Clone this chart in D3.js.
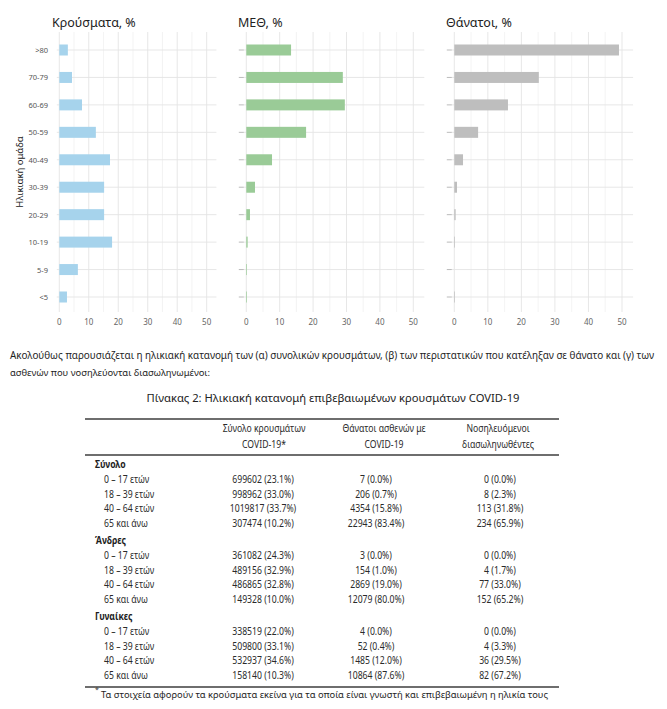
<!DOCTYPE html>
<html>
<head>
<meta charset="utf-8">
<script src="https://cdn.jsdelivr.net/npm/d3@7"></script>
<style>
  body { margin: 0; background: #fff; }
  svg { display: block; font-family: "Noto Sans", "DejaVu Sans", sans-serif; }
</style>
</head>
<body>
<svg id="chart" width="667" height="709"></svg>
<script>
// chart data
const ageGroups = [">80", "70-79", "60-69", "50-59", "40-49", "30-39", "20-29", "10-19", "5-9", "<5"];
const casesPct = [2.9, 4.3, 7.7, 12.4, 17.2, 15.2, 15.2, 17.9, 6.3, 2.6];
const icuPct = [13.4, 28.9, 29.5, 17.9, 7.7, 2.6, 1.1, 0.4, 0.2, 0.2];
const deathsPct = [49.1, 25.2, 16.0, 7.1, 2.6, 0.8, 0.4, 0.2, 0.0, 0.2];
const xTicks = [0, 10, 20, 30, 40, 50];
const panelTitles = ["Κρούσματα, %", "ΜΕΘ, %", "Θάνατοι, %"];
const yTitle = "Ηλικιακή ομάδα";

// text + table data
const paragraph = [
  "Ακολούθως παρουσιάζεται η ηλικιακή κατανομή των (α) συνολικών κρουσμάτων, (β) των περιστατικών που κατέληξαν σε θάνατο και (γ) των",
  "ασθενών που νοσηλεύονται διασωληνωμένοι:"
];
const tableTitle = "Πίνακας 2: Ηλικιακή κατανομή επιβεβαιωμένων κρουσμάτων COVID-19";
const colHeaders = [
  ["Σύνολο κρουσμάτων", "COVID-19*"],
  ["Θάνατοι ασθενών με", "COVID-19"],
  ["Νοσηλευόμενοι", "διασωληνωθέντες"]
];
const groupNames = ["Σύνολο", "Άνδρες", "Γυναίκες"];
const rowLabels = ["0 – 17 ετών", "18 – 39 ετών", "40 – 64 ετών", "65 και άνω"];
const totalCases = ["699602 (23.1%)", "998962 (33.0%)", "1019817 (33.7%)", "307474 (10.2%)"];
const totalDeaths = ["7 (0.0%)", "206 (0.7%)", "4354 (15.8%)", "22943 (83.4%)"];
const totalIntub = ["0 (0.0%)", "8 (2.3%)", "113 (31.8%)", "234 (65.9%)"];
const menCases = ["361082 (24.3%)", "489156 (32.9%)", "486865 (32.8%)", "149328 (10.0%)"];
const menDeaths = ["3 (0.0%)", "154 (1.0%)", "2869 (19.0%)", "12079 (80.0%)"];
const menIntub = ["0 (0.0%)", "4 (1.7%)", "77 (33.0%)", "152 (65.2%)"];
const womenCases = ["338519 (22.0%)", "509800 (33.1%)", "532937 (34.6%)", "158140 (10.3%)"];
const womenDeaths = ["4 (0.0%)", "52 (0.4%)", "1485 (12.0%)", "10864 (87.6%)"];
const womenIntub = ["0 (0.0%)", "4 (3.3%)", "36 (29.5%)", "82 (67.2%)"];
const footnote = "Τα στοιχεία αφορούν τα κρούσματα εκείνα για τα οποία είναι γνωστή και επιβεβαιωμένη η ηλικία τους";

const svg = d3.select("#chart");
svg.append("rect").attr("width", 667).attr("height", 709).attr("fill", "#fff");

// squeeze text a bit, the source font is a narrow one
function squeeze(sel, k) {
  sel.each(function () {
    const w = this.getComputedTextLength();
    d3.select(this).attr("textLength", w * k).attr("lengthAdjust", "spacingAndGlyphs");
  });
}

// shrink font until the text fits the width, then pin it to that width
function fitTo(sel, target) {
  sel.each(function () {
    const t = d3.select(this);
    const fs = +t.attr("font-size");
    const w = this.getComputedTextLength();
    if (w > target) t.attr("font-size", fs * target / w);
    t.attr("textLength", target).attr("lengthAdjust", "spacingAndGlyphs");
  });
}

// ---- three bar panels ----
const panels = [
  { values: casesPct, color: "#a6d3ec", x0: 59.3, x50: 206.7, ticks: false },
  { values: icuPct, color: "#9acb97", x0: 246.3, x50: 413.3, ticks: true },
  { values: deathsPct, color: "#bebebe", x0: 454.3, x50: 622, ticks: true }
];

const y = d3.scalePoint().domain(ageGroups).range([50, 297]);
const barH = 11;
const gridTop = 32, gridBottom = 312;

panels.forEach((p, i) => {
  const x = d3.scaleLinear().domain([0, 50]).range([p.x0, p.x50]);
  const g = svg.append("g");
  const gl = p.x0 - 2.5, gr = x(53.3);

  // minor vertical grid
  g.selectAll(".vminor").data(d3.range(5, 50, 10)).enter().append("line")
    .attr("x1", d => x(d)).attr("x2", d => x(d))
    .attr("y1", gridTop).attr("y2", gridBottom)
    .attr("stroke", "#f0f0f0").attr("stroke-width", 0.8);
  // major vertical grid
  g.selectAll(".vmajor").data(xTicks).enter().append("line")
    .attr("x1", d => x(d)).attr("x2", d => x(d))
    .attr("y1", gridTop).attr("y2", gridBottom)
    .attr("stroke", "#e4e4e4").attr("stroke-width", 0.9);
  // horizontal grid
  g.selectAll(".hgrid").data(ageGroups).enter().append("line")
    .attr("x1", gl).attr("x2", gr)
    .attr("y1", d => y(d)).attr("y2", d => y(d))
    .attr("stroke", "#e4e4e4").attr("stroke-width", 0.9);

  if (p.ticks) {
    g.selectAll(".ytick").data(ageGroups).enter().append("line")
      .attr("x1", gl - 5).attr("x2", gl)
      .attr("y1", d => y(d)).attr("y2", d => y(d))
      .attr("stroke", "#aaa").attr("stroke-width", 0.8);
  }

  // bars
  g.selectAll(".bar").data(ageGroups).enter().append("rect")
    .attr("x", x(0))
    .attr("y", d => y(d) - barH / 2)
    .attr("width", (d, j) => Math.max(0, x(p.values[j]) - x(0)))
    .attr("height", barH)
    .attr("fill", p.color);

  // x tick labels
  g.selectAll(".xlab").data(xTicks).enter().append("text")
    .attr("x", d => x(d)).attr("y", 325)
    .attr("text-anchor", "middle")
    .attr("font-size", 8).attr("fill", "#666")
    .text(d => d);

  // title
  g.append("text")
    .attr("x", [52, 238, 446][i]).attr("y", 27)
    .attr("font-size", 12.5).attr("fill", "#222")
    .text(panelTitles[i]);

  if (i === 0) {
    g.selectAll(".ylab").data(ageGroups).enter().append("text")
      .attr("x", 48).attr("y", d => y(d) + 3)
      .attr("text-anchor", "end")
      .attr("font-size", 7.5).attr("fill", "#555")
      .text(d => d);
  }
});

svg.append("text")
  .attr("transform", "translate(23,172) rotate(-90)")
  .attr("text-anchor", "middle")
  .attr("font-size", 9.5).attr("fill", "#222")
  .text(yTitle);

// ---- paragraph ----
svg.selectAll(".para").data(paragraph).enter().append("text")
  .attr("x", 10).attr("y", (d, i) => 359 + i * 17)
  .attr("font-size", 10.5).attr("fill", "#1e1e1e")
  .text(d => d)
  .each(function (d, i) {
    d3.select(this).call(fitTo, i === 0 ? 644 : 200);
  });

svg.append("text")
  .attr("x", 333).attr("y", 402)
  .attr("text-anchor", "middle")
  .attr("font-size", 11.5).attr("fill", "#222")
  .text(tableTitle)
  .call(fitTo, 373);

// ---- table ----
const tLeft = 85, tRight = 559;
const colX = [263, 376, 500];
const ruleColor = "#6e6e6e";
[419, 455, 687].forEach(yy => {
  svg.append("line").attr("x1", tLeft).attr("x2", tRight)
    .attr("y1", yy).attr("y2", yy)
    .attr("stroke", ruleColor).attr("stroke-width", 1.8);
});

colHeaders.forEach((lines, c) => {
  svg.selectAll(null).data(lines).enter().append("text")
    .attr("x", colX[c] + [1, 8, -2][c]).attr("y", (d, k) => 432 + k * 16)
    .attr("text-anchor", "middle")
    .attr("font-size", 10.3).attr("fill", "#2a2a2a")
    .text(d => d)
    .call(squeeze, 0.84);
});

const groups = [
  [totalCases, totalDeaths, totalIntub],
  [menCases, menDeaths, menIntub],
  [womenCases, womenDeaths, womenIntub]
];
const groupTop = [468, 544, 620];
const rowStep = 14.6;

groups.forEach((cols, gi) => {
  const gy = groupTop[gi];
  svg.append("text")
    .attr("x", 95).attr("y", gy)
    .attr("font-size", 10.3).attr("font-weight", "bold").attr("fill", "#1e1e1e")
    .text(groupNames[gi])
    .call(squeeze, 0.84);

  rowLabels.forEach((lab, r) => {
    const ry = gy + 15 + r * rowStep;
    svg.append("text")
      .attr("x", 104).attr("y", ry)
      .attr("font-size", 10.3).attr("fill", "#2a2a2a")
      .text(lab)
      .call(squeeze, 0.84);
    cols.forEach((vals, c) => {
      svg.append("text")
        .attr("x", colX[c]).attr("y", ry)
        .attr("text-anchor", "middle")
        .attr("font-size", 10.3).attr("fill", "#2a2a2a")
        .text(vals[r])
        .call(squeeze, 0.84);
    });
  });
});

svg.append("text")
  .attr("x", 95).attr("y", 692)
  .attr("font-size", 7).attr("fill", "#333")
  .text("*");
svg.append("text")
  .attr("x", 101).attr("y", 698)
  .attr("font-size", 10.3).attr("fill", "#1e1e1e")
  .text(footnote)
  .call(fitTo, 447);
</script>
</body>
</html>
